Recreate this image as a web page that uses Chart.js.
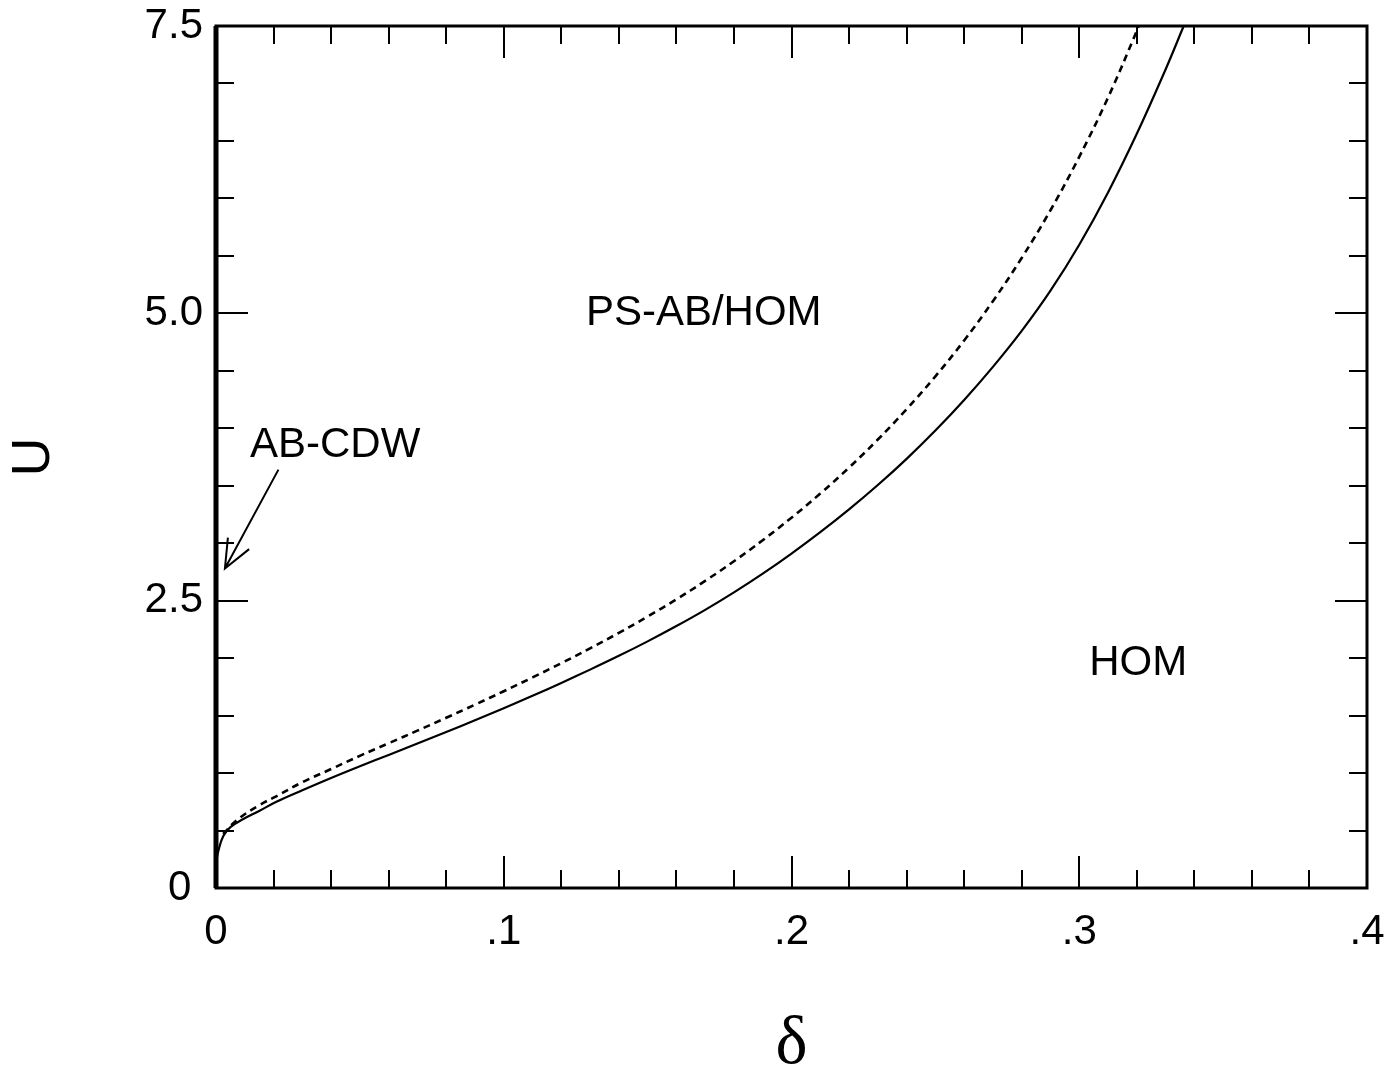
<!DOCTYPE html>
<html>
<head>
<meta charset="utf-8">
<script src="https://cdn.jsdelivr.net/npm/chart.js@4/dist/chart.umd.min.js"></script>
<style>
  html, body { margin: 0; padding: 0; background: #fff; }
  canvas { display: block; }
</style>
</head>
<body>
<canvas id="c" width="1395" height="1086"></canvas>
<script>
// phase diagram U vs delta

// solid boundary
const solidDelta = [0, 0.0008, 0.0025, 0.005, 0.0095, 0.015, 0.021, 0.03, 0.04, 0.05, 0.06, 0.07, 0.08, 0.09, 0.10, 0.11, 0.12, 0.13, 0.14, 0.15, 0.16, 0.17, 0.18, 0.19, 0.20, 0.21, 0.22, 0.23, 0.24, 0.25, 0.26, 0.27, 0.28, 0.29, 0.30, 0.31, 0.32, 0.33, 0.3363];
const solidU     = [0.22, 0.32, 0.45, 0.53, 0.60, 0.67, 0.75, 0.85, 0.957, 1.059, 1.158, 1.257, 1.357, 1.459, 1.564, 1.672, 1.784, 1.900, 2.020, 2.146, 2.279, 2.420, 2.572, 2.735, 2.910, 3.096, 3.294, 3.506, 3.734, 3.980, 4.246, 4.534, 4.847, 5.197, 5.597, 6.052, 6.562, 7.122, 7.50];

// dashed boundary
const dashDelta = [0.0025, 0.0072, 0.015, 0.0211, 0.03, 0.04, 0.05, 0.06, 0.07, 0.08, 0.09, 0.10, 0.11, 0.12, 0.13, 0.14, 0.15, 0.16, 0.17, 0.18, 0.19, 0.20, 0.21, 0.22, 0.23, 0.24, 0.25, 0.26, 0.27, 0.28, 0.29, 0.30, 0.31, 0.32, 0.3206];
const dashU     = [0.47, 0.59, 0.72, 0.80, 0.92, 1.035, 1.150, 1.259, 1.369, 1.481, 1.595, 1.712, 1.832, 1.956, 2.085, 2.220, 2.362, 2.512, 2.672, 2.843, 3.026, 3.222, 3.432, 3.658, 3.902, 4.166, 4.452, 4.764, 5.106, 5.482, 5.897, 6.362, 6.877, 7.457, 7.50];

// AB-CDW line sits on delta = 0
const cdwDelta = [0, 0];
const cdwU     = [0, 7.5];

// tick marks
const xMinorTicks = [0.02, 0.04, 0.06, 0.08, 0.12, 0.14, 0.16, 0.18, 0.22, 0.24, 0.26, 0.28, 0.32, 0.34, 0.36, 0.38];
const xMajorTicks = [0.1, 0.2, 0.3];
const yMinorTicks = [0.5, 1, 1.5, 2, 3, 3.5, 4, 4.5, 5.5, 6, 6.5, 7];
const yMajorTicks = [2.5, 5.0];

// region labels
const regionText = ['PS-AB/HOM', 'HOM', 'AB-CDW'];
const regionX    = [0.1695, 0.3205, 0.0414];
const regionY    = [5.00, 1.95, 3.85];
const arrowFrom  = [0.0217, 3.64];
const arrowTo    = [0.0031, 2.78];

const toXY = (xs, ys) => xs.map((v, i) => ({ x: v, y: ys[i] }));

const frameAndMarks = {
    id: 'frameAndMarks',
    afterDatasetsDraw(chart) {
        const { ctx, chartArea: a, scales: { x, y } } = chart;
        ctx.save();
        ctx.strokeStyle = '#000';
        ctx.fillStyle = '#000';

        // ticks pointing inward on all four sides
        ctx.lineWidth = 2;
        ctx.beginPath();
        const xt = (v, len) => {
            const px = Math.round(x.getPixelForValue(v));
            ctx.moveTo(px, a.bottom); ctx.lineTo(px, a.bottom - len);
            ctx.moveTo(px, a.top);    ctx.lineTo(px, a.top + len);
        };
        const yt = (v, len) => {
            const py = Math.round(y.getPixelForValue(v));
            ctx.moveTo(a.left, py);  ctx.lineTo(a.left + len, py);
            ctx.moveTo(a.right, py); ctx.lineTo(a.right - len, py);
        };
        xMinorTicks.forEach(v => xt(v, 18));
        xMajorTicks.forEach(v => xt(v, 32));
        yMinorTicks.forEach(v => yt(v, 18));
        yMajorTicks.forEach(v => yt(v, 32));
        ctx.stroke();

        // frame
        ctx.lineWidth = 3;
        ctx.strokeRect(a.left, a.top, a.right - a.left, a.bottom - a.top);

        // labels
        ctx.font = '42px "Liberation Sans", Arial, sans-serif';
        ctx.textAlign = 'center';
        ctx.textBaseline = 'middle';
        regionText.forEach((t, i) => {
            ctx.fillText(t, x.getPixelForValue(regionX[i]), y.getPixelForValue(regionY[i]));
        });

        // arrow to the AB-CDW line
        const x0 = x.getPixelForValue(arrowFrom[0]), y0 = y.getPixelForValue(arrowFrom[1]);
        const x1 = x.getPixelForValue(arrowTo[0]),   y1 = y.getPixelForValue(arrowTo[1]);
        const ang = Math.atan2(y0 - y1, x0 - x1);
        const hl = 31, hw = 0.40;
        ctx.lineWidth = 2;
        ctx.beginPath();
        ctx.moveTo(x0, y0); ctx.lineTo(x1, y1);
        ctx.moveTo(x1 + hl * Math.cos(ang - hw), y1 + hl * Math.sin(ang - hw));
        ctx.lineTo(x1, y1);
        ctx.lineTo(x1 + hl * Math.cos(ang + hw), y1 + hl * Math.sin(ang + hw));
        ctx.stroke();
        ctx.restore();
    }
};

const tickFont = { family: '"Liberation Sans", Arial, sans-serif', size: 42 };

new Chart(document.getElementById('c'), {
    type: 'line',
    data: {
        datasets: [
            { data: toXY(cdwDelta, cdwU), borderColor: '#000', borderWidth: 5, pointRadius: 0, clip: false },
            { data: toXY(solidDelta, solidU), borderColor: '#000', borderWidth: 2.2, pointRadius: 0,
              tension: 0.4, clip: false },
            { data: toXY(dashDelta, dashU), borderColor: '#000', borderWidth: 2.6, pointRadius: 0,
              borderDash: [7, 5], tension: 0.4, clip: false }
        ]
    },
    options: {
        responsive: false,
        animation: false,
        layout: { padding: { left: 0, right: 28, top: 26, bottom: 0 } },
        plugins: { legend: { display: false }, tooltip: { enabled: false } },
        scales: {
            x: {
                type: 'linear', min: 0, max: 0.4,
                grid: { display: false, drawTicks: false },
                border: { display: false },
                ticks: {
                    stepSize: 0.1, autoSkip: false, maxRotation: 0, padding: 19,
                    color: '#000', font: tickFont,
                    callback: v => v === 0 ? '0' : v.toFixed(1).replace(/^0/, '')
                },
                title: {
                    display: true, text: 'δ', color: '#000',
                    font: { family: '"Liberation Serif", "Times New Roman", serif', size: 68 },
                    padding: { bottom: 0 }
                },
                afterFit: s => { s.height = 198; s.paddingLeft = 0; s.paddingRight = 0; }
            },
            y: {
                type: 'linear', min: 0, max: 7.5,
                grid: { display: false, drawTicks: false },
                border: { display: false },
                ticks: {
                    stepSize: 2.5, padding: 13, color: '#000', font: tickFont,
                    callback: v => v === 0 ? '0 ' : v.toFixed(1)
                },
                title: {
                    display: true, text: 'U', color: '#000',
                    font: { family: '"Liberation Sans", Arial, sans-serif', size: 54 },
                    padding: { top: 2 }
                },
                afterFit: s => { s.width = 216; s.paddingTop = 0; s.paddingBottom = 0; }
            }
        }
    },
    plugins: [frameAndMarks]
});
</script>
</body>
</html>
